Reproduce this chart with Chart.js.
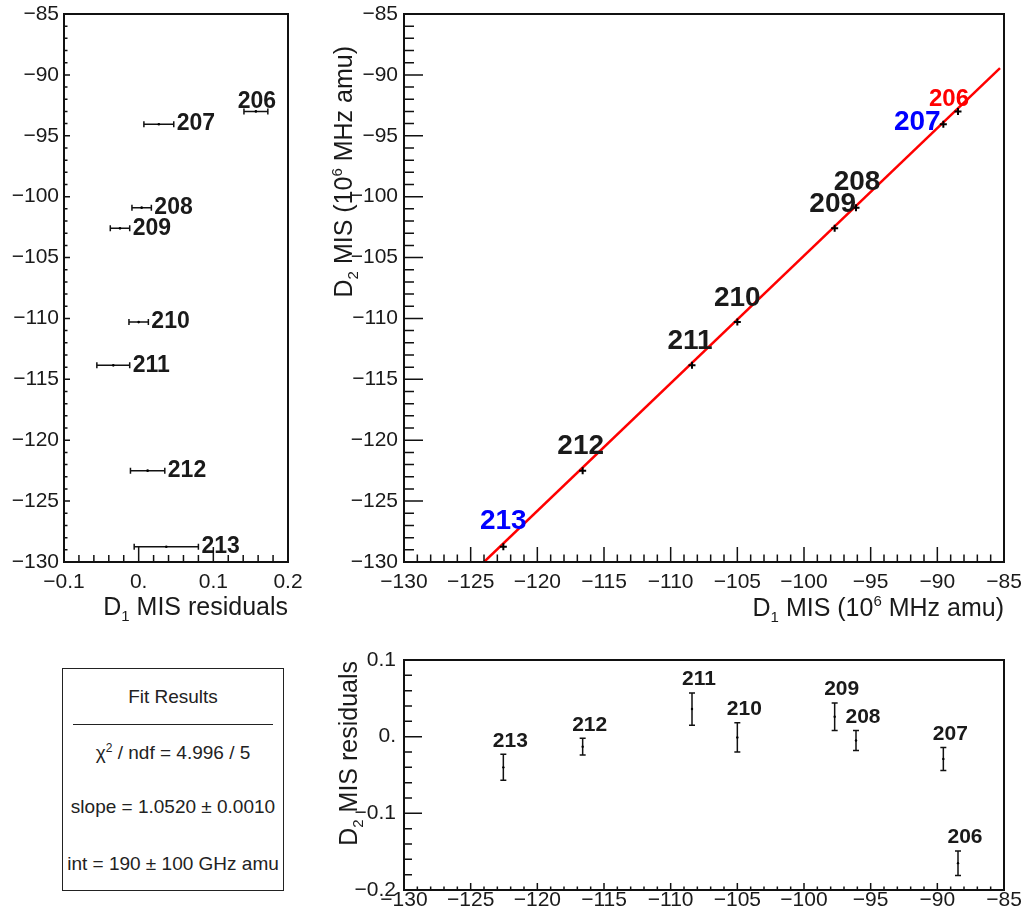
<!DOCTYPE html>
<html>
<head>
<meta charset="utf-8">
<script src="https://cdn.jsdelivr.net/npm/chart.js@4.4.1/dist/chart.umd.min.js"></script>
<style>
  body { margin: 0; background: #fff; }
  #wrap { position: relative; width: 1022px; height: 913px; overflow: hidden; }
  canvas { position: absolute; left: 0; top: 0; }
  #fitbox {
    position: absolute; left: 62px; top: 668px; width: 222px; height: 223px;
    box-sizing: border-box; border: 1.5px solid #222; background: #fff;
    font-family: "Liberation Sans", Arial, sans-serif; font-size: 19px; color: #222;
  }
  #fitbox .row { position: absolute; left: 0; width: 100%; text-align: center; line-height: 24px; white-space: nowrap; }
  #fitbox .rule { position: absolute; left: 10px; width: 200px; top: 55px; border-top: 1.5px solid #222; }
  #fitbox sup { font-size: 12px; vertical-align: 7px; line-height: 0; }
</style>
</head>
<body>
<div id="wrap">
  <canvas id="leftChart" width="1022" height="913"></canvas>
  <canvas id="mainChart" width="1022" height="913"></canvas>
  <canvas id="residChart" width="1022" height="913"></canvas>
  <div id="fitbox">
    <div class="row" style="top:16px">Fit Results</div>
    <div class="rule"></div>
    <div class="row" style="top:72px">&chi;<sup>2</sup> / ndf = 4.996 / 5</div>
    <div class="row" style="top:126px">slope = 1.0520 &plusmn; 0.0010</div>
    <div class="row" style="top:183px">int = 190 &plusmn; 100 GHz amu</div>
  </div>
</div>
<script>
// data
const isotopes = ['206', '207', '208', '209', '210', '211', '212', '213'];
const d1Mis = [-88.45, -89.55, -96.1, -97.7, -105.0, -108.4, -116.6, -122.55];
const d2Mis = [-93.0, -94.05, -100.9, -102.6, -110.3, -113.85, -122.5, -128.75];
const d1Resid = [0.157, 0.027, 0.004, -0.025, 0.000, -0.034, 0.012, 0.037];
const d1ResidErr = [0.016, 0.020, 0.013, 0.013, 0.013, 0.022, 0.023, 0.043];
const d2Resid = [-0.165, -0.029, -0.005, 0.026, -0.001, 0.036, -0.013, -0.040];
const d2ResidErr = [0.016, 0.015, 0.013, 0.018, 0.019, 0.021, 0.011, 0.017];
const fitLineX = [-124.0, -85.3];
const fitLineY = [-130.0, -89.45];

const misTicks = [-130, -125, -120, -115, -110, -105, -100, -95, -90, -85];
const d1ResidTicks = [-0.1, 0, 0.1, 0.2];
const d2ResidTicks = [-0.2, -0.1, 0, 0.1];

const FONT = '"Liberation Sans", Arial, sans-serif';
const INK = '#1a1a1a';

function fmt(v) {
  if (Math.abs(v) < 1e-9) return '0.';
  const s = String(Math.round(v * 1000) / 1000);
  return s.replace('-', '\u2212');
}

function linAxis(o) {
  return {
    type: 'linear',
    position: o.position,
    min: o.min,
    max: o.max,
    grid: { display: false, drawTicks: false },
    border: { display: false },
    afterBuildTicks: s => { s.ticks = o.ticks.map(v => ({ value: v })); },
    afterFit: s => {
      if (o.width) s.width = o.width;
      if (o.height) s.height = o.height;
      s.paddingLeft = 0; s.paddingRight = 0; s.paddingTop = 0; s.paddingBottom = 0;
    },
    ticks: {
      padding: o.pad,
      color: INK,
      font: { family: FONT, size: 21, lineHeight: 1 },
      maxRotation: 0,
      autoSkip: false,
      callback: v => fmt(v)
    }
  };
}

// ROOT-like frame with inward ticks
function framePlugin(spec) {
  return {
    id: 'rootFrame',
    afterDraw(chart) {
      const { ctx, chartArea: a } = chart;
      const xs = chart.scales.x, ys = chart.scales.y;
      ctx.save();
      ctx.strokeStyle = '#111';
      ctx.lineWidth = 1.5;
      const tickLoop = (sc, t, draw) => {
        const n = Math.round((sc.max - sc.min) / t.minor);
        for (let i = 0; i <= n; i++) {
          const v = sc.min + i * t.minor;
          const r = v / t.major;
          const major = Math.abs(r - Math.round(r)) < 1e-6;
          draw(sc.getPixelForValue(v), major ? t.majorLen : t.minorLen);
        }
      };
      ctx.beginPath();
      tickLoop(xs, spec.x, (p, len) => { ctx.moveTo(p, a.bottom); ctx.lineTo(p, a.bottom - len); });
      tickLoop(ys, spec.y, (p, len) => { ctx.moveTo(a.left, p); ctx.lineTo(a.left + len, p); });
      ctx.stroke();
      ctx.lineWidth = 2;
      ctx.strokeRect(a.left, a.top, a.right - a.left, a.bottom - a.top);
      ctx.restore();
    }
  };
}

function drawRich(ctx, parts, x, y, rot, size) {
  ctx.save();
  ctx.translate(x, y);
  ctx.rotate(rot);
  ctx.textBaseline = 'alphabetic';
  ctx.textAlign = 'left';
  ctx.fillStyle = INK;
  const fontFor = p => (p[1] === 0 ? size : Math.round(size * 0.6)) + 'px ' + FONT;
  const widths = parts.map(p => { ctx.font = fontFor(p); return ctx.measureText(p[0]).width; });
  let cx = -widths.reduce((a, b) => a + b, 0);
  parts.forEach((p, i) => {
    ctx.font = fontFor(p);
    const dy = p[1] < 0 ? size * 0.22 : (p[1] > 0 ? -size * 0.42 : 0);
    ctx.fillText(p[0], cx, dy);
    cx += widths[i];
  });
  ctx.restore();
}

function titlePlugin(titles) {
  return {
    id: 'rootTitles',
    afterDraw(chart) {
      titles.forEach(t => drawRich(chart.ctx, t.parts, t.x, t.y, t.rot || 0, 25));
    }
  };
}

function boldText(ctx, text, x, capMid, size, color, align) {
  ctx.font = 'bold ' + size + 'px ' + FONT;
  ctx.fillStyle = color;
  ctx.textAlign = align;
  ctx.textBaseline = 'alphabetic';
  ctx.fillText(text, x, capMid + size * 0.358);
}

const commonPlugins = { legend: { display: false }, tooltip: { enabled: false } };

// ---------- left panel: D1 residuals vs D2 MIS ----------
const leftLabelPlace = { '206': { above: true, dx: 1, dy: -12 } };

new Chart(document.getElementById('leftChart'), {
  type: 'scatter',
  data: {
    datasets: [{
      data: d2Mis.map((y, i) => ({ x: d1Resid[i], y: y })),
      pointRadius: 1.3,
      pointBackgroundColor: '#000',
      pointBorderWidth: 0
    }]
  },
  options: {
    responsive: false,
    animation: false,
    devicePixelRatio: 1,
    layout: { padding: { left: 0, top: 14, right: 1022 - 288, bottom: 913 - 625 } },
    scales: {
      x: linAxis({ position: 'bottom', min: -0.1, max: 0.2, ticks: d1ResidTicks, height: 63, pad: 10 }),
      y: linAxis({ position: 'left', min: -130, max: -85, ticks: misTicks, width: 64, pad: 5 })
    },
    plugins: commonPlugins
  },
  plugins: [
    {
      id: 'hErrors',
      beforeDatasetsDraw(chart) {
        const { ctx } = chart, xs = chart.scales.x, ys = chart.scales.y;
        ctx.save();
        ctx.strokeStyle = '#111';
        ctx.lineWidth = 1.5;
        ctx.beginPath();
        d1Resid.forEach((v, i) => {
          const y = ys.getPixelForValue(d2Mis[i]);
          const x1 = xs.getPixelForValue(v - d1ResidErr[i]);
          const x2 = xs.getPixelForValue(v + d1ResidErr[i]);
          ctx.moveTo(x1, y); ctx.lineTo(x2, y);
          ctx.moveTo(x1, y - 3); ctx.lineTo(x1, y + 3);
          ctx.moveTo(x2, y - 3); ctx.lineTo(x2, y + 3);
        });
        ctx.stroke();
        ctx.restore();
      },
      afterDatasetsDraw(chart) {
        const { ctx } = chart, xs = chart.scales.x, ys = chart.scales.y;
        ctx.save();
        isotopes.forEach((name, i) => {
          const y = ys.getPixelForValue(d2Mis[i]);
          const p = leftLabelPlace[name];
          if (p && p.above) {
            boldText(ctx, name, xs.getPixelForValue(d1Resid[i]) + p.dx, y + p.dy, 23, INK, 'center');
          } else {
            boldText(ctx, name, xs.getPixelForValue(d1Resid[i] + d1ResidErr[i]) + 3, y - 2, 23, INK, 'left');
          }
        });
        ctx.restore();
      }
    },
    framePlugin({
      x: { major: 0.1, minor: 0.02, majorLen: 15, minorLen: 7 },
      y: { major: 5, minor: 1, majorLen: 6, minorLen: 3.5 }
    }),
    titlePlugin([
      { parts: [['D', 0], ['1', -1], [' MIS residuals', 0]], x: 288, y: 615 }
    ])
  ]
});

// ---------- main panel: D2 MIS vs D1 MIS with fit ----------
const mainLabelStyle = {
  '206': { dx: -9, dy: -14, size: 24, color: '#ff0000' },
  '207': { dx: -26, dy: -4, size: 28, color: '#0000ff' },
  '208': { dx: 1, dy: -28, size: 28, color: INK },
  '209': { dx: -2, dy: -26, size: 28, color: INK },
  '210': { dx: 0, dy: -26, size: 28, color: INK },
  '211': { dx: -2, dy: -26, size: 28, color: INK },
  '212': { dx: -2, dy: -27, size: 28, color: INK },
  '213': { dx: 0, dy: -28, size: 28, color: '#0000ff' }
};

new Chart(document.getElementById('mainChart'), {
  type: 'scatter',
  data: {
    datasets: [
      {
        type: 'line',
        data: fitLineX.map((x, i) => ({ x: x, y: fitLineY[i] })),
        borderColor: '#ff0000',
        borderWidth: 2.5,
        pointRadius: 0,
        fill: false,
        order: 2
      },
      {
        data: d1Mis.map((x, i) => ({ x: x, y: d2Mis[i] })),
        pointStyle: 'cross',
        pointRadius: 3.5,
        pointBorderWidth: 2,
        pointBorderColor: '#000',
        order: 1
      }
    ]
  },
  options: {
    responsive: false,
    animation: false,
    devicePixelRatio: 1,
    layout: { padding: { left: 330, top: 14, right: 1022 - 1004, bottom: 913 - 625 } },
    scales: {
      x: linAxis({ position: 'bottom', min: -130, max: -85, ticks: misTicks, height: 63, pad: 10 }),
      y: linAxis({ position: 'left', min: -130, max: -85, ticks: misTicks, width: 74, pad: 6 })
    },
    plugins: commonPlugins
  },
  plugins: [
    {
      id: 'mainLabels',
      afterDatasetsDraw(chart) {
        const { ctx } = chart, xs = chart.scales.x, ys = chart.scales.y;
        ctx.save();
        isotopes.forEach((name, i) => {
          const s = mainLabelStyle[name];
          boldText(ctx, name, xs.getPixelForValue(d1Mis[i]) + s.dx, ys.getPixelForValue(d2Mis[i]) + s.dy, s.size, s.color, 'center');
        });
        ctx.restore();
      }
    },
    framePlugin({
      x: { major: 5, minor: 1, majorLen: 15, minorLen: 7.5 },
      y: { major: 5, minor: 1, majorLen: 19, minorLen: 10 }
    }),
    titlePlugin([
      { parts: [['D', 0], ['1', -1], [' MIS (10', 0], ['6', 1], [' MHz amu)', 0]], x: 1004, y: 616 },
      { parts: [['D', 0], ['2', -1], [' MIS (10', 0], ['6', 1], [' MHz amu)', 0]], x: 352, y: 46, rot: -Math.PI / 2 }
    ])
  ]
});

// ---------- bottom panel: D2 residuals vs D1 MIS ----------
new Chart(document.getElementById('residChart'), {
  type: 'scatter',
  data: {
    datasets: [{
      data: d1Mis.map((x, i) => ({ x: x, y: d2Resid[i] })),
      pointRadius: 1.2,
      pointBackgroundColor: '#000',
      pointBorderWidth: 0
    }]
  },
  options: {
    responsive: false,
    animation: false,
    devicePixelRatio: 1,
    layout: { padding: { left: 330, top: 660, right: 1022 - 1004, bottom: 0 } },
    scales: {
      x: linAxis({ position: 'bottom', min: -130, max: -85, ticks: misTicks, height: 913 - 890, pad: 0 }),
      y: linAxis({ position: 'left', min: -0.2, max: 0.1, ticks: d2ResidTicks, width: 74, pad: 8 })
    },
    plugins: commonPlugins
  },
  plugins: [
    {
      id: 'vErrors',
      beforeDatasetsDraw(chart) {
        const { ctx } = chart, xs = chart.scales.x, ys = chart.scales.y;
        ctx.save();
        ctx.strokeStyle = '#111';
        ctx.lineWidth = 1.5;
        ctx.beginPath();
        d2Resid.forEach((v, i) => {
          const x = xs.getPixelForValue(d1Mis[i]);
          const y1 = ys.getPixelForValue(v + d2ResidErr[i]);
          const y2 = ys.getPixelForValue(v - d2ResidErr[i]);
          ctx.moveTo(x, y1); ctx.lineTo(x, y2);
          ctx.moveTo(x - 3, y1); ctx.lineTo(x + 3, y1);
          ctx.moveTo(x - 3, y2); ctx.lineTo(x + 3, y2);
        });
        ctx.stroke();
        ctx.restore();
      },
      afterDatasetsDraw(chart) {
        const { ctx } = chart, xs = chart.scales.x, ys = chart.scales.y;
        ctx.save();
        isotopes.forEach((name, i) => {
          const top = ys.getPixelForValue(d2Resid[i] + d2ResidErr[i]);
          boldText(ctx, name, xs.getPixelForValue(d1Mis[i]) + 7, top - 15, 21, INK, 'center');
        });
        ctx.restore();
      }
    },
    framePlugin({
      x: { major: 5, minor: 1, majorLen: 7, minorLen: 3.5 },
      y: { major: 0.1, minor: 0.02, majorLen: 18, minorLen: 8 }
    }),
    titlePlugin([
      { parts: [['D', 0], ['2', -1], [' MIS residuals', 0]], x: 357, y: 661, rot: -Math.PI / 2 }
    ])
  ]
});
</script>
</body>
</html>
